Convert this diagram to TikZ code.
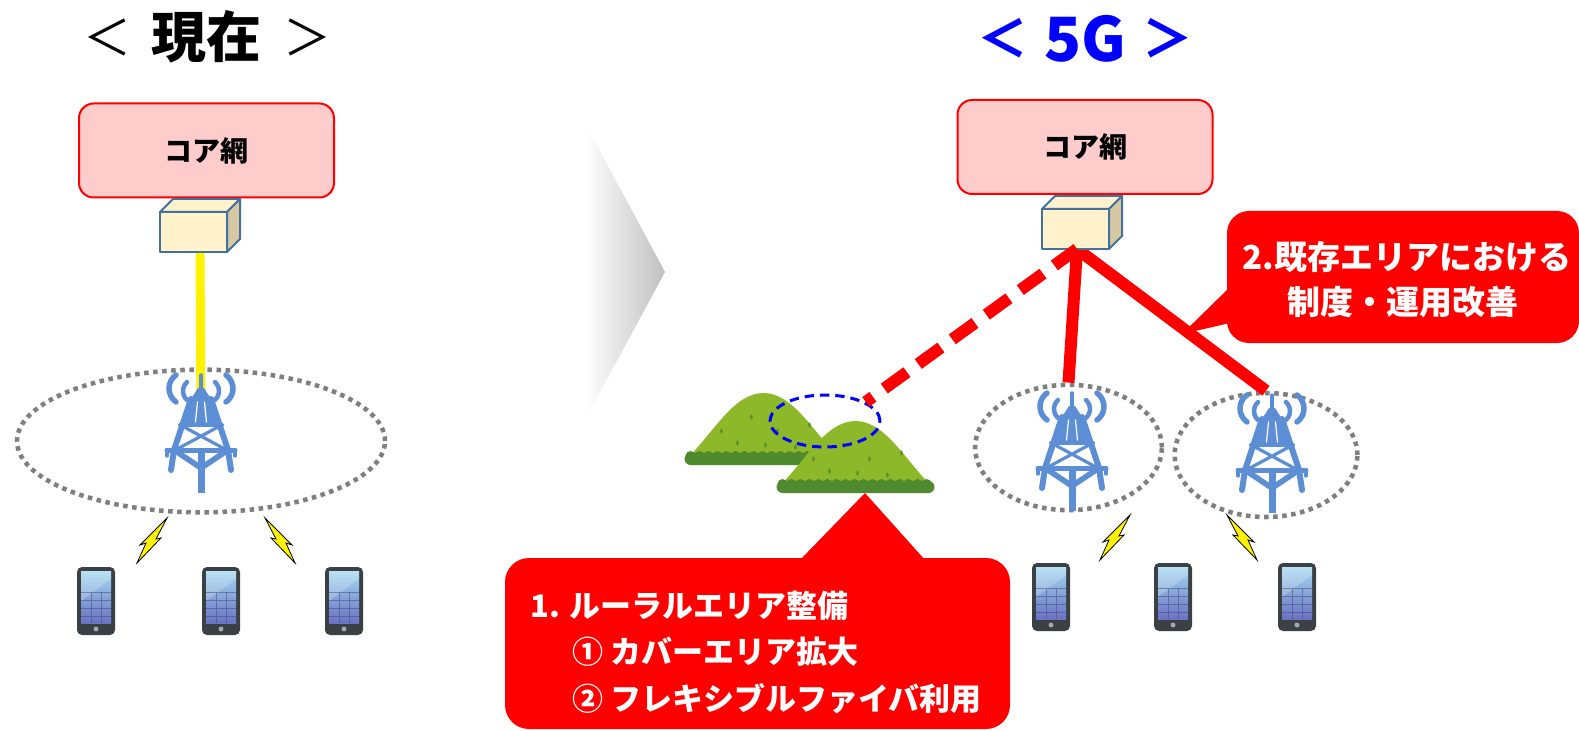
\documentclass[tikz,border=0pt]{standalone}
\usepackage{fontspec}
\usepackage{tikz}
\usetikzlibrary{shapes.geometric}
\newfontfamily\jpfont{Noto Sans CJK JP}

\definecolor{corefill}{HTML}{FFCCCC}
\definecolor{cubefront}{HTML}{FFF2CC}
\definecolor{cubeside}{HTML}{D5C8A2}
\definecolor{cubeline}{HTML}{41719C}
\definecolor{towerblue}{HTML}{5B8ED5}
\definecolor{dotgray}{HTML}{7F7F7F}
\definecolor{hillgreen}{HTML}{8DB82A}
\definecolor{bushgreen}{HTML}{4F8B2E}
\definecolor{phonebody}{HTML}{3B4045}
\definecolor{screentop}{HTML}{A3D8F0}
\definecolor{screenbot}{HTML}{6A72C2}
\definecolor{boltyellow}{HTML}{FFF200}

\tikzset{
  core/.style={draw=red, line width=1.5pt, fill=corefill, rounded corners=11pt,
    minimum width=191.25pt, minimum height=70.5pt,
    font=\jpfont\bfseries\fontsize{21}{24}\selectfont},
  cell/.style={ellipse, draw=dotgray, line width=3.4pt, dash pattern=on 3.4pt off 3.4pt, inner sep=0pt},
  fiber/.style={draw=yellow, line width=6.75pt},
  link/.style={draw=red, line width=9pt},
  linkplan/.style={link, dash pattern=on 21pt off 10.5pt},
  callout/.style={fill=red, rounded corners=18pt, inner sep=0pt},
  notetext/.style={text=white, inner sep=0pt, font=\jpfont\bfseries\fontsize{23.25}{28}\selectfont},
  notetextb/.style={text=white, inner sep=0pt, font=\jpfont\bfseries\fontsize{24.75}{30}\selectfont},
  title/.style={inner sep=0pt, font=\jpfont\bfseries\fontsize{41.25}{48}\selectfont},
  bracket/.style={inner sep=0pt, font=\jpfont\fontsize{36}{42}\selectfont},
  % pics are drawn with y pointing down, as in the picture
  icon/.style={yscale=-1},
  % box in front of the core network
  cube/.pic={
    \filldraw[fill=cubefront, draw=cubeline, line width=1.5pt, line join=round]
      (0,0) -- (13,-13) -- (80,-13) -- (67,0) -- cycle;
    \filldraw[fill=cubeside, draw=cubeline, line width=1.5pt, line join=round]
      (67,0) -- (80,-13) -- (80,27) -- (67,40) -- cycle;
    \filldraw[fill=cubefront, draw=cubeline, line width=1.5pt, line join=round]
      (0,0) rectangle (67,40);
  },
  % antenna tower, origin at the mast tip
  tower/.pic={
    \begin{scope}[towerblue, line cap=round, line join=round]
    \draw[line width=4.1pt] (-15.5,13.5) ++(125:16.5) arc[start angle=125, end angle=235, radius=16.5];
    \draw[line width=4.1pt] (15.5,13.5) ++(-55:16.5) arc[start angle=-55, end angle=55, radius=16.5];
    \draw[line width=3.4pt] (-6,16) ++(132:12) arc[start angle=132, end angle=228, radius=12];
    \draw[line width=3.4pt] (6,16) ++(-48:12) arc[start angle=-48, end angle=48, radius=12];
    \draw[line width=2.6pt] (0,0) -- (0,20);
    \fill (-3,13) -- (3,13) -- (10,24) -- (-10,24) -- cycle;
    \fill (-10,23) -- (10,23) -- (17,51) -- (-17,51) -- cycle;
    \draw[white, line width=0.9pt] (-3.5,27) -- (-5.5,47) (3.5,27) -- (5.5,47);
    \draw[line width=3pt] (-21,50) -- (21,50);
    \draw[line width=4.5pt] (-10,24) -- (-27,75) -- (-30,95);
    \draw[line width=4.5pt] (10,24) -- (27,75) -- (30,95);
    \draw[line width=2.4pt] (-17,52) -- (22,73) (17,52) -- (-22,73);
    \draw[line width=3.75pt] (-34,75) -- (34,75);
    \draw[line width=2.6pt] (-34,75) -- (-34,81) (34,75) -- (34,81);
    \draw[line width=4.2pt] (-24,77) -- (0,93) -- (24,77);
    \draw[line width=5.25pt, line cap=butt] (0,75) -- (0,118);
    \end{scope}
  },
  % handset, origin at its centre
  phone/.pic={
    \fill[phonebody, rounded corners=3.75pt] (-19,-34) rectangle (19,34);
    \shade[top color=screentop, bottom color=screenbot] (-15,-30) rectangle (15,22);
    \fill[white, opacity=0.22] (-15,-30) -- (15,-30) -- (15,-22) -- (-15,0) -- cycle;
    \draw[screenbot!60!black, line width=0.5pt, opacity=0.5]
      (-5,-9) -- (-5,22) (5,-9) -- (5,22)
      (-15,-9) -- (15,-9) (-15,-1) -- (15,-1) (-15,7) -- (15,7) (-15,15) -- (15,15);
    \fill[gray!70] (0,28) circle [radius=2.5];
  },
  % radio link, from upper right to lower left
  bolt/.pic={
    \filldraw[fill=boltyellow, draw=black, line width=0.6pt]
      (30,0) -- (19,21) -- (24,20) -- (0,45) -- (9,25) -- (3,27) -- cycle;
  },
  % hill, origin at the middle of its foot
  hill/.pic={
    \fill[hillgreen] (-77,-6) .. controls (-50,-32) and (-30,-72) .. (0,-72)
      .. controls (30,-72) and (50,-32) .. (77,-6) -- cycle;
    \foreach \t in {(-42,-34),(-12,-48),(14,-34),(-26,-22),(32,-18),(46,-40),(2,-20)}
      \fill[bushgreen] \t ellipse [x radius=1.2, y radius=2.5];
    \fill[bushgreen, rounded corners=4.5pt] (-79,-12) rectangle (79,0);
    \foreach \i in {-73,-64,...,73}
      \fill[bushgreen] (\i,-9) circle [radius=5];
  },
}

\begin{document}
\begin{tikzpicture}[x=0.75pt,y=0.75pt,yscale=-1,xscale=1]
\useasboundingbox (0,0) rectangle (1579,731);

% Text Node
\node[bracket, anchor=base] (nowL) at (107,56) {＜};
% Text Node
\node[title, anchor=base] (nowTitle) at (206,58) {現在};
% Text Node
\node[bracket, anchor=base] (nowR) at (307,56) {＞};
% Text Node
\node[bracket, anchor=base, text=blue, font=\jpfont\bfseries\fontsize{38}{44}\selectfont] (fgL) at (1003,58) {＜};
% Text Node
\node[title, anchor=base, text=blue, font=\jpfont\bfseries\fontsize{45.75}{50}\selectfont] (fgTitle) at (1085,62) {5G};
% Text Node
\node[bracket, anchor=base, text=blue, font=\jpfont\bfseries\fontsize{38}{44}\selectfont] (fgR) at (1168,58) {＞};

%Shape: Arrow head
\shade[left color=white, right color=black!25] (585,123) -- (665,272) -- (585,420) -- cycle;

%Core networks
\node[core] (coreL) at (206.5,150.5) {コア網};
\node[core] (coreR) at (1085,147) {コア網};

%Shape: Ellipse
\node[cell, minimum width=276pt, minimum height=107pt] (cellL) at (201,441) {};
\node[cell, minimum width=140pt, minimum height=94pt] (cellA) at (1068.5,447.5) {};
\node[cell, minimum width=137pt, minimum height=93pt] (cellB) at (1266,455) {};

\coordinate (hubL) at (200,252);
\coordinate (siteL) at (201,420);
\coordinate (hubR) at (1077,249);

%Straight Lines
\draw[fiber] (hubL) -- (siteL);
\draw[link] (hubR) -- (cellA.north);
\draw[link] (hubR) -- (cellB.north);

%Boxes
\pic[icon] at (160,212) {cube};
\pic[icon] at (1042,209) {cube};

%Towers
\pic[icon] at (201,375) {tower};
\pic[icon] at (1072,393) {tower};
\pic[icon] at (1272,395) {tower};

%Handsets
\foreach \x in {96,221,344} \pic[icon] at (\x,601) {phone};
\foreach \x in {1051,1173,1297} \pic[icon] at (\x,597) {phone};

%Radio links
\pic[icon] at (137,518) {bolt};
\pic[icon, xscale=-1] at (295,518) {bolt};
\pic[icon] at (1100,515) {bolt};
\pic[icon, xscale=-1] at (1257,515) {bolt};

%Hills
\pic[icon] at (763.5,465) {hill};
\pic[icon] at (855.5,493) {hill};
\node[ellipse, draw=blue, line width=2.25pt, dash pattern=on 7pt off 4.5pt, inner sep=0pt,
  minimum width=82.5pt, minimum height=39pt] (rural) at (825,421) {};
\draw[linkplan] (hubR) -- (rural.25);

%Callout 1
\node[callout, minimum width=378.75pt, minimum height=128.25pt] (note1) at (757.5,643.5) {};
\fill[red] (800,560) -- (865,493) -- (925,560) -- cycle;
% Text Node
\node[notetext, anchor=base west] (r1) at (530,617) {1. ルーラルエリア整備};
% Text Node
\node[notetext, anchor=base west] (r2) at (572,663) {① カバーエリア拡大};
% Text Node
\node[notetext, anchor=base west] (r3) at (572,710) {② フレキシブルファイバ利用};

%Callout 2
\node[callout, rounded corners=16.5pt, minimum width=264pt, minimum height=99pt] (note2) at (1403,277) {};
\fill[red] (1230,287) -- (1182,334) -- (1230,323) -- cycle;
% Text Node
\node[notetextb, anchor=base] (q1) at (1407,270) {2.既存エリアにおける};
% Text Node
\node[notetextb, anchor=base] (q2) at (1403,315) {制度・運用改善};

\end{tikzpicture}
\end{document}
